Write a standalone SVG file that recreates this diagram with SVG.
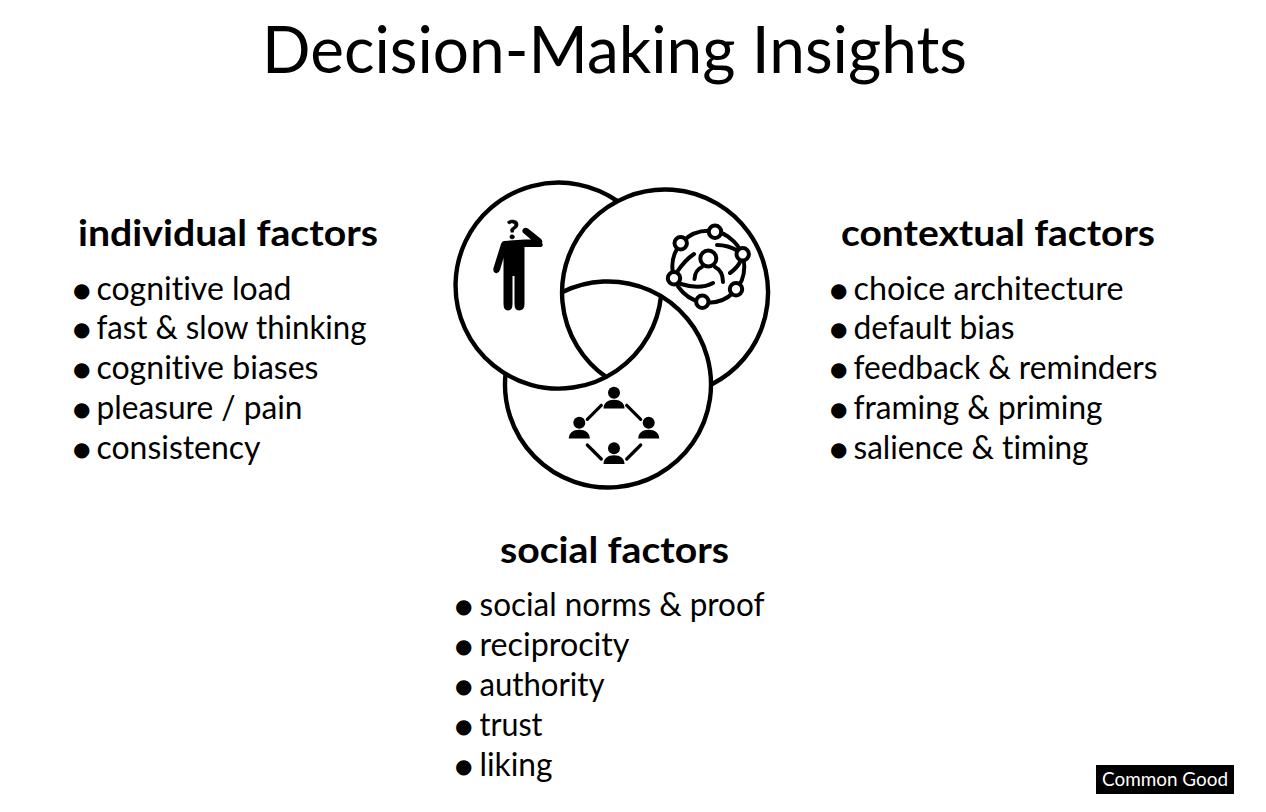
<svg xmlns="http://www.w3.org/2000/svg" width="1266" height="812" viewBox="0 0 1266 812">
<style>
text{font-family:"Lato","Noto Sans",sans-serif;fill:#000;font-variant-ligatures:none}
.title{font-size:65px}
.h{font-size:36px;font-weight:700}
.i{font-size:32px}
.b{font-family:"DejaVu Sans",sans-serif;font-size:20px}
.soft{filter:url(#soft)}
.arc{fill:none;stroke:#000;stroke-width:4.4}
.ln{fill:none;stroke:#000;stroke-width:3.2;stroke-linecap:round}
.net{fill:none;stroke:#000;stroke-width:4;stroke-linecap:round}
.nd{fill:#fff;stroke:#000;stroke-width:4}
</style>
<defs>
<filter id="soft" x="-5%" y="-5%" width="110%" height="110%"><feGaussianBlur stdDeviation="0.45"/></filter>
<g id="person"><circle cx="0" cy="0" r="6"/><path d="M-10.5 15.800C-10.500 10 -6 7 0 7S10.500 10 10.500 15.800Z"/></g>
</defs>
<rect width="1266" height="812" fill="#fff"/>
<text id="title" class="title" x="262" y="73" textLength="705" lengthAdjust="spacingAndGlyphs">Decision-Making Insights</text>

<g id="individual-factors">
<g class="soft">
<path class="arc" d="M661 296.200A103 103 0 1 1 617.500 201.100"/>
<path d="M504 241L524.500 241L541 244.500Q544 241 540.500 238.500L528 228.500Q524 226.500 522.500 230Q521.500 232 524.500 234L531 239.500L524.500 239.500ZM504 241Q502 241 501 244L493.500 268Q492.500 272 495.500 273Q498.500 274 500 270L503.500 258L503.500 304Q503.500 310.500 508 310.500Q512.500 310.500 512.500 304L512.500 276L514.500 276L514.500 304Q514.500 310.500 519 310.500Q524.500 310.500 524.500 304L524.500 247L541 247Q544 246 542 243L541 244.500L524.500 241Z"/>
<text x="506.500" y="238.500" style="font-size:27px;font-weight:900;stroke:#000;stroke-width:.6">?</text>
</g>
<text class="h" x="78" y="246" textLength="300" lengthAdjust="spacingAndGlyphs">individual factors</text>
<text class="i" y="300"><tspan class="b" dy="-3" x="73">●</tspan><tspan dy="3" x="96.500" textLength="195" lengthAdjust="spacingAndGlyphs">cognitive load</tspan></text>
<text class="i" y="339"><tspan class="b" dy="-3" x="73">●</tspan><tspan dy="3" x="96.500" textLength="270" lengthAdjust="spacingAndGlyphs">fast &amp; slow thinking</tspan></text>
<text class="i" y="379"><tspan class="b" dy="-3" x="73">●</tspan><tspan dy="3" x="96.500" textLength="222" lengthAdjust="spacingAndGlyphs">cognitive biases</tspan></text>
<text class="i" y="419"><tspan class="b" dy="-3" x="73">●</tspan><tspan dy="3" x="96.500" textLength="206" lengthAdjust="spacingAndGlyphs">pleasure / pain</tspan></text>
<text class="i" y="459"><tspan class="b" dy="-3" x="73">●</tspan><tspan dy="3" x="96.500" textLength="164" lengthAdjust="spacingAndGlyphs">consistency</tspan></text>
</g>

<g id="contextual-factors">
<g class="soft">
<path class="arc" d="M606 376.900A103 103 0 1 1 711 384.700"/>
<circle class="net" cx="708.300" cy="266.800" r="36"/>
<path class="net" d="M677 272Q685 260 694 254M717 245Q728 245 738 251M681 284Q700 290 713 283M730 273Q737 268 740 262"/>
<circle class="net" cx="708.300" cy="258.500" r="8"/>
<path class="net" d="M694.500 279Q695 270 702 267M715 267Q723 271 723 282"/>
<circle class="nd" cx="680.700" cy="243.300" r="6.200"/><circle class="nd" cx="715" cy="231.700" r="6.200"/><circle class="nd" cx="742.700" cy="254.300" r="6.200"/><circle class="nd" cx="736" cy="289.300" r="6.200"/><circle class="nd" cx="702.300" cy="301.700" r="6.200"/><circle class="nd" cx="674" cy="278.300" r="6.200"/>
</g>
<text class="h" x="841" y="246" textLength="314" lengthAdjust="spacingAndGlyphs">contextual factors</text>
<text class="i" y="300"><tspan class="b" dy="-3" x="830">●</tspan><tspan dy="3" x="853.500" textLength="270" lengthAdjust="spacingAndGlyphs">choice architecture</tspan></text>
<text class="i" y="339"><tspan class="b" dy="-3" x="830">●</tspan><tspan dy="3" x="853.500" textLength="161" lengthAdjust="spacingAndGlyphs">default bias</tspan></text>
<text class="i" y="379"><tspan class="b" dy="-3" x="830">●</tspan><tspan dy="3" x="853.500" textLength="304" lengthAdjust="spacingAndGlyphs">feedback &amp; reminders</tspan></text>
<text class="i" y="419"><tspan class="b" dy="-3" x="830">●</tspan><tspan dy="3" x="853.500" textLength="249" lengthAdjust="spacingAndGlyphs">framing &amp; priming</tspan></text>
<text class="i" y="459"><tspan class="b" dy="-3" x="830">●</tspan><tspan dy="3" x="853.500" textLength="235" lengthAdjust="spacingAndGlyphs">salience &amp; timing</tspan></text>
</g>

<g id="social-factors">
<g class="soft">
<path class="arc" d="M562 292.300A103 103 0 1 1 505.550 373.800"/>
<use href="#person" x="614" y="392.700"/><use href="#person" x="579.300" y="422.700"/><use href="#person" x="648.700" y="422.700"/><use href="#person" x="614" y="448.300"/>
<path class="ln" d="M587.300 419.300L601.300 405.300M626.700 405.300L640.700 419.300M587.300 445L601.300 459M626.700 459L640.700 445"/>
</g>
<text class="h" x="500" y="563" textLength="229" lengthAdjust="spacingAndGlyphs">social factors</text>
<text class="i" y="616"><tspan class="b" dy="-3" x="455">●</tspan><tspan dy="3" x="479.500" textLength="285" lengthAdjust="spacingAndGlyphs">social norms &amp; proof</tspan></text>
<text class="i" y="656"><tspan class="b" dy="-3" x="455">●</tspan><tspan dy="3" x="479.500" textLength="150" lengthAdjust="spacingAndGlyphs">reciprocity</tspan></text>
<text class="i" y="696"><tspan class="b" dy="-3" x="455">●</tspan><tspan dy="3" x="479.500" textLength="125" lengthAdjust="spacingAndGlyphs">authority</tspan></text>
<text class="i" y="736"><tspan class="b" dy="-3" x="455">●</tspan><tspan dy="3" x="479.500" textLength="63" lengthAdjust="spacingAndGlyphs">trust</tspan></text>
<text class="i" y="776"><tspan class="b" dy="-3" x="455">●</tspan><tspan dy="3" x="479.500" textLength="73" lengthAdjust="spacingAndGlyphs">liking</tspan></text>
</g>

<g id="connectors"></g>

<g id="badge">
<rect x="1096" y="765" width="138" height="29" fill="#000"/>
<text x="1102" y="786" style="font-size:20px;fill:#fff" textLength="126" lengthAdjust="spacingAndGlyphs">Common Good</text>
</g>
</svg>
